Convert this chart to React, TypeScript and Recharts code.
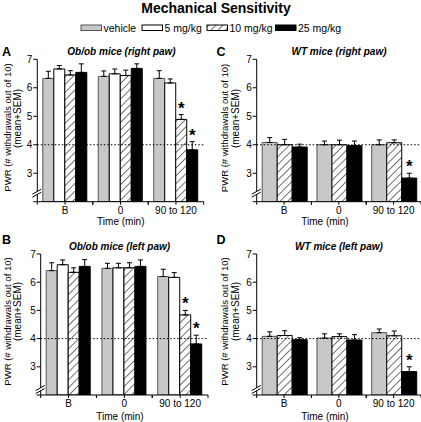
import React from 'react';
import { BarChart, Bar, XAxis, YAxis, ErrorBar, ReferenceLine, LabelList } from 'recharts';

const FONT = '"Liberation Sans", Arial, Helvetica, sans-serif';

const timepoints = ['B', '0', '90 to 120'];
const yTicks = [2, 3, 4, 5, 6, 7];

// Panel A: Ob/ob mice (right paw)
const obRightVehicle = [6.33, 6.40, 6.33];
const obRightVehicleSem = [0.25, 0.19, 0.27];
const obRight5 = [6.66, 6.49, 6.17];
const obRight5Sem = [0.12, 0.17, 0.14];
const obRight10 = [6.45, 6.43, 4.89];
const obRight10Sem = [0.15, 0.19, 0.17];
const obRight25 = [6.54, 6.68, 3.82];
const obRight25Sem = [0.30, 0.16, 0.29];
const obRightSig10 = [false, false, true];
const obRightSig25 = [false, false, true];

// Panel B: Ob/ob mice (left paw)
const obLeftVehicle = [6.41, 6.49, 6.20];
const obLeftVehicleSem = [0.28, 0.18, 0.26];
const obLeft5 = [6.62, 6.51, 6.17];
const obLeft5Sem = [0.17, 0.16, 0.17];
const obLeft10 = [6.35, 6.51, 4.84];
const obLeft10Sem = [0.16, 0.18, 0.16];
const obLeft25 = [6.56, 6.56, 3.81];
const obLeft25Sem = [0.24, 0.23, 0.31];
const obLeftSig10 = [false, false, true];
const obLeftSig25 = [false, false, true];

// Panel C: WT mice (right paw)
const wtRightVehicle = [4.08, 4.0, 4.0];
const wtRightVehicleSem = [0.17, 0.13, 0.17];
const wtRight10 = [4.0, 4.0, 4.07];
const wtRight10Sem = [0.19, 0.16, 0.10];
const wtRight25 = [3.92, 3.97, 2.83];
const wtRight25Sem = [0.10, 0.16, 0.17];
const wtRightSig25 = [false, false, true];

// Panel D: WT mice (left paw)
const wtLeftVehicle = [4.08, 4.02, 4.21];
const wtLeftVehicleSem = [0.16, 0.15, 0.13];
const wtLeft10 = [4.11, 4.07, 4.10];
const wtLeft10Sem = [0.17, 0.10, 0.17];
const wtLeft25 = [3.96, 3.95, 2.83];
const wtLeft25Sem = [0.07, 0.19, 0.17];
const wtLeftSig25 = [false, false, true];

const noSig = [false, false, false];

type Series = {
  key: string;
  kind: 'vehicle' | 'mg5' | 'mg10' | 'mg25';
  values: number[];
  sems: number[];
  sig: boolean[];
};

const styleOf = (kind: string, pid: string) => {
  switch (kind) {
    case 'vehicle':
      return { fill: '#c8c8c8', stroke: '#555' };
    case 'mg5':
      return { fill: '#ffffff', stroke: '#000' };
    case 'mg10':
      return { fill: `url(#hatch-${pid})`, stroke: '#000' };
    default:
      return { fill: '#000000', stroke: '#000' };
  }
};

type PanelProps = {
  pid: string;
  left: number;
  top: number;
  width: number;
  height: number;
  marginTop: number;
  marginRight: number;
  yAxisWidth: number;
  xAxisHeight: number;
  breakUp: number;
  series: Series[];
};

function Panel(p: PanelProps) {
  const rows = timepoints.map((t, i) => {
    const r: any = { t };
    p.series.forEach((s) => {
      r[s.key] = s.values[i];
      r[s.key + 'Sem'] = [0, s.sems[i]];
      r[s.key + 'Sig'] = s.sig[i];
    });
    return r;
  });

  const plotW = p.width - p.marginRight - p.yAxisWidth;
  const halfBand = plotW / timepoints.length / 2;

  const XTick = (props: any) => {
    const { x, y, payload } = props;
    const axisY = y - 5;
    const off = payload && typeof payload.offset === 'number' && payload.offset > 0 ? payload.offset : halfBand;
    return (
      <g>
        <line x1={x - off} x2={x - off} y1={axisY} y2={axisY + 3} stroke="#000" strokeWidth={1} />
        <line x1={x + off} x2={x + off} y1={axisY} y2={axisY + 3} stroke="#000" strokeWidth={1} />
        <text x={x} y={y} dy="0.71em" textAnchor="middle" fontSize={10} fontFamily={FONT} fill="#000">
          {payload.value}
        </text>
      </g>
    );
  };

  const YTick = (props: any) => {
    const { x, y, payload } = props;
    const ax = x + 5;
    if (payload.value === 2) {
      const cy = y - p.breakUp;
      return (
        <g>
          <polygon
            points={`${ax - 5},${cy + 1} ${ax + 4},${cy - 4} ${ax + 4},${cy - 1} ${ax - 5},${cy + 4}`}
            fill="#fff"
            stroke="none"
          />
          <line x1={ax - 5} y1={cy + 1} x2={ax + 4} y2={cy - 4} stroke="#000" strokeWidth={1} />
          <line x1={ax - 5} y1={cy + 4} x2={ax + 4} y2={cy - 1} stroke="#000" strokeWidth={1} />
        </g>
      );
    }
    return (
      <text x={x} y={y} dy="0.355em" textAnchor="end" fontSize={10} fontFamily={FONT} fill="#000">
        {payload.value}
      </text>
    );
  };

  const starContent = (key: string) => (props: any) => {
    const { x, y, width, height, index } = props;
    const row = rows[index];
    if (!row || !row[key + 'Sig']) return null;
    const v = row[key];
    const ppu = height / (v - 2);
    const errTop = y - row[key + 'Sem'][1] * ppu;
    return (
      <text
        x={x + width / 2}
        y={errTop - 1}
        textAnchor="middle"
        fontSize={17}
        fontWeight="bold"
        fontFamily={FONT}
        fill="#000"
      >
        *
      </text>
    );
  };

  return (
    <div style={{ position: 'absolute', left: p.left, top: p.top, width: p.width, height: p.height }}>
      <BarChart
        width={p.width}
        height={p.height}
        data={rows}
        margin={{ top: p.marginTop, right: p.marginRight, left: 0, bottom: 0 }}
        barCategoryGap={5.5}
        barGap={0}
      >
        <defs>
          <pattern
            id={`hatch-${p.pid}`}
            patternUnits="userSpaceOnUse"
            width={5.5}
            height={5.5}
            patternTransform="rotate(45)"
          >
            <rect width={5.5} height={5.5} fill="#fff" />
            <line x1={0} y1={0} x2={0} y2={5.5} stroke="#000" strokeWidth={1.1} />
          </pattern>
        </defs>
        <XAxis
          dataKey="t"
          type="category"
          height={p.xAxisHeight}
          axisLine={{ stroke: '#000', strokeWidth: 1 }}
          tickLine={{ stroke: '#000', strokeWidth: 1 }}
          tickSize={3}
          tickMargin={2}
          tick={XTick}
          interval={0}
        />
        <YAxis
          type="number"
          domain={[2, 7]}
          ticks={yTicks}
          allowDataOverflow
          width={p.yAxisWidth}
          axisLine={{ stroke: '#000', strokeWidth: 1 }}
          tickLine={{ stroke: '#000', strokeWidth: 1 }}
          tickSize={4}
          tickMargin={1}
          tick={YTick}
          interval={0}
        />
        <ReferenceLine y={4} stroke="#000" strokeWidth={1} strokeDasharray="1.5 2" />
        {p.series.map((s) => {
          const st = styleOf(s.kind, p.pid);
          return (
            <Bar
              key={s.key}
              dataKey={s.key}
              fill={st.fill}
              stroke={st.stroke}
              strokeWidth={1}
              isAnimationActive={false}
            >
              <ErrorBar dataKey={s.key + 'Sem'} direction="y" width={2.5} stroke="#000" strokeWidth={1} />
              <LabelList dataKey={s.key} content={starContent(s.key)} />
            </Bar>
          );
        })}
      </BarChart>
    </div>
  );
}

const seriesA: Series[] = [
  { key: 'veh', kind: 'vehicle', values: obRightVehicle, sems: obRightVehicleSem, sig: noSig },
  { key: 'mg5', kind: 'mg5', values: obRight5, sems: obRight5Sem, sig: noSig },
  { key: 'mg10', kind: 'mg10', values: obRight10, sems: obRight10Sem, sig: obRightSig10 },
  { key: 'mg25', kind: 'mg25', values: obRight25, sems: obRight25Sem, sig: obRightSig25 },
];
const seriesB: Series[] = [
  { key: 'veh', kind: 'vehicle', values: obLeftVehicle, sems: obLeftVehicleSem, sig: noSig },
  { key: 'mg5', kind: 'mg5', values: obLeft5, sems: obLeft5Sem, sig: noSig },
  { key: 'mg10', kind: 'mg10', values: obLeft10, sems: obLeft10Sem, sig: obLeftSig10 },
  { key: 'mg25', kind: 'mg25', values: obLeft25, sems: obLeft25Sem, sig: obLeftSig25 },
];
const seriesC: Series[] = [
  { key: 'veh', kind: 'vehicle', values: wtRightVehicle, sems: wtRightVehicleSem, sig: noSig },
  { key: 'mg10', kind: 'mg10', values: wtRight10, sems: wtRight10Sem, sig: noSig },
  { key: 'mg25', kind: 'mg25', values: wtRight25, sems: wtRight25Sem, sig: wtRightSig25 },
];
const seriesD: Series[] = [
  { key: 'veh', kind: 'vehicle', values: wtLeftVehicle, sems: wtLeftVehicleSem, sig: noSig },
  { key: 'mg10', kind: 'mg10', values: wtLeft10, sems: wtLeft10Sem, sig: noSig },
  { key: 'mg25', kind: 'mg25', values: wtLeft25, sems: wtLeft25Sem, sig: wtLeftSig25 },
];

const legendItems = [
  { label: 'vehicle', kind: 'vehicle', x: 81 },
  { label: '5 mg/kg', kind: 'mg5', x: 142 },
  { label: '10 mg/kg', kind: 'mg10', x: 207 },
  { label: '25 mg/kg', kind: 'mg25', x: 275.5 },
];

const panelTitles = [
  { letter: 'A', lx: 2, ly: 56, title: 'Ob/ob mice (right paw)', tx: 121.5, ty: 55 },
  { letter: 'C', lx: 216.5, ly: 56, title: 'WT mice (right paw)', tx: 339, ty: 55 },
  { letter: 'B', lx: 2, ly: 244, title: 'Ob/ob mice (left paw)', tx: 119.5, ty: 250 },
  { letter: 'D', lx: 216.5, ly: 244, title: 'WT mice (left paw)', tx: 339, ty: 250 },
];

const yLabels = [
  { x1: 11, y1: 127.5, x2: 21, y2: 118.5 },
  { x1: 10.7, y1: 321.5, x2: 21, y2: 311.5 },
  { x1: 228, y1: 128, x2: 239, y2: 118.5 },
  { x1: 228, y1: 321.5, x2: 239, y2: 311.5 },
];

const timeLabels = [
  { x: 120.8, y: 225 },
  { x: 120, y: 420 },
  { x: 325, y: 225 },
  { x: 325, y: 420 },
];

export default function App() {
  return (
    <div
      style={{
        position: 'absolute',
        left: 0,
        top: 0,
        width: 421,
        height: 422,
        overflow: 'hidden',
        background: '#fff',
        fontFamily: FONT,
      }}
    >
      <Panel pid="a" left={0} top={40} width={215} height={190} marginTop={19.3} marginRight={11.3} yAxisWidth={37.3} xAxisHeight={28.3} breakUp={8.5} series={seriesA} />
      <Panel pid="b" left={0} top={230} width={215} height={192} marginTop={24} marginRight={7} yAxisWidth={40.7} xAxisHeight={27} breakUp={5.5} series={seriesB} />
      <Panel pid="c" left={215} top={40} width={206} height={190} marginTop={19.3} marginRight={0} yAxisWidth={41.7} xAxisHeight={28.3} breakUp={8.5} series={seriesC} />
      <Panel pid="d" left={215} top={230} width={206} height={192} marginTop={24} marginRight={0} yAxisWidth={41.7} xAxisHeight={27} breakUp={5.5} series={seriesD} />
      <svg width={421} height={422} style={{ position: 'absolute', left: 0, top: 0, pointerEvents: 'none' }}>
        <defs>
          <pattern id="hatch-legend" patternUnits="userSpaceOnUse" width={5} height={5} patternTransform="rotate(45)">
            <rect width={5} height={5} fill="#fff" />
            <line x1={0} y1={0} x2={0} y2={5} stroke="#000" strokeWidth={1.1} />
          </pattern>
        </defs>
        <text x={216} y={13} textAnchor="middle" fontSize={14} fontWeight="bold" fontFamily={FONT} fill="#000">
          Mechanical Sensitivity
        </text>
        {legendItems.map((it) => {
          const st = it.kind === 'mg10' ? { fill: 'url(#hatch-legend)', stroke: '#000' } : styleOf(it.kind, 'x');
          return (
            <g key={it.label}>
              <rect x={it.x} y={25} width={20.5} height={5.5} fill={st.fill} stroke={st.stroke} strokeWidth={1} />
              <text x={it.x + 22.5} y={31.5} fontSize={10.5} fontFamily={FONT} fill="#000">
                {it.label}
              </text>
            </g>
          );
        })}
        {panelTitles.map((pt) => (
          <g key={pt.letter}>
            <text x={pt.lx} y={pt.ly} fontSize={12.5} fontWeight="bold" fontFamily={FONT} fill="#000">
              {pt.letter}
            </text>
            <text x={pt.tx} y={pt.ty} textAnchor="middle" fontSize={10} fontWeight="bold" fontStyle="italic" fontFamily={FONT} fill="#000">
              {pt.title}
            </text>
          </g>
        ))}
        {yLabels.map((yl, i) => (
          <g key={i}>
            <text transform={`translate(${yl.x1},${yl.y1}) rotate(-90)`} textAnchor="middle" fontSize={9.5} fontFamily={FONT} fill="#000">
              PWR (# withdrawals out of 10)
            </text>
            <text transform={`translate(${yl.x2},${yl.y2}) rotate(-90)`} textAnchor="middle" fontSize={10} fontFamily={FONT} fill="#000">
              (mean+SEM)
            </text>
          </g>
        ))}
        {timeLabels.map((tl, i) => (
          <text key={i} x={tl.x} y={tl.y} textAnchor="middle" fontSize={10} fontFamily={FONT} fill="#000">
            Time (min)
          </text>
        ))}
      </svg>
    </div>
  );
}
